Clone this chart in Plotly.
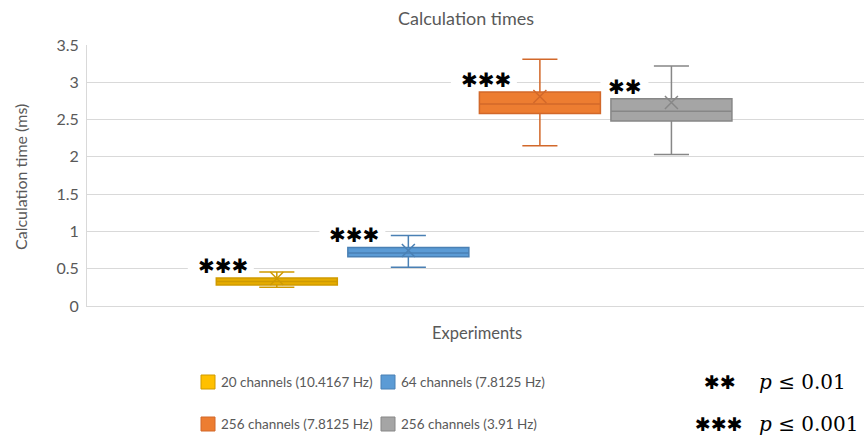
import plotly.graph_objects as go

# Summary statistics per experiment (ms)
series = ["20 channels (10.4167 Hz)", "64 channels (7.8125 Hz)",
          "256 channels (7.8125 Hz)", "256 channels (3.91 Hz)"]
lower = [0.25, 0.52, 2.15, 2.03]
q1 = [0.28, 0.66, 2.58, 2.48]
median = [0.33, 0.71, 2.71, 2.61]
q3 = [0.375, 0.785, 2.87, 2.78]
upper = [0.455, 0.945, 3.31, 3.22]
mean = [0.37, 0.745, 2.81, 2.73]
stars = [3, 3, 3, 2]
sig_levels = [2, 3]
sig_text = ["<i>p</i> ≤ 0.01", "<i>p</i> ≤ 0.001"]

fills = ["#E6AC00", "#5B9BD5", "#ED7D31", "#A5A5A5"]
swatch = ["#FFC000", "#5B9BD5", "#ED7D31", "#A5A5A5"]
lines = ["#CF9A00", "#4A80B4", "#D2682A", "#878787"]

W, H = 864, 439
PL, PR, PT, PB = 87, 864, 45, 306
XR = [-0.443, 5.464]
YR = [0, 3.5]
FONT = "Lato"
GREY = "#595959"
STAR = "\u2731"

XPX = (PR - PL) / (XR[1] - XR[0])   # pixels per x unit
YPX = (PB - PT) / (YR[1] - YR[0])   # pixels per y unit


def px(x):
    return (x - PL) / (PR - PL)


def py(y):
    return (PB - y) / (PB - PT)


fig = go.Figure()
for i, name in enumerate(series):
    pos = i + 1
    fig.add_trace(go.Box(
        x=[pos], q1=[q1[i]], median=[median[i]], q3=[q3[i]],
        lowerfence=[lower[i]], upperfence=[upper[i]],
        width=0.92, whiskerwidth=0.29, boxpoints=False,
        fillcolor=fills[i], line=dict(color=lines[i], width=1.5),
        name=name, showlegend=False, hoverinfo="skip",
    ))
    fig.add_trace(go.Scatter(
        x=[pos], y=[mean[i]], mode="markers", showlegend=False,
        marker=dict(symbol="x-thin", size=13,
                    line=dict(color=lines[i], width=1.5)),
        hoverinfo="skip",
    ))
    # significance marker, with a white patch hiding the gridline behind it
    right = pos - 27 / XPX
    yc = q3[i] + 12 / YPX
    fig.add_shape(type="rect", layer="between", xref="x", yref="y",
                  x0=right - (18 * stars[i] + 8) / XPX, x1=right + 4 / XPX,
                  y0=yc - 8 / YPX, y1=yc + 8 / YPX,
                  fillcolor="white", line=dict(width=0))
    fig.add_annotation(
        x=right, y=yc, xref="x", yref="y", text=STAR * stars[i],
        showarrow=False, xanchor="right", yanchor="middle",
        font=dict(family="DejaVu Sans", size=20, color="black"),
    )

annotations = [
    dict(text="Calculation times", x=px(466), y=py(18), size=18),
    dict(text="Experiments", x=px(477), y=py(333), size=16.5),
]
for a in annotations:
    fig.add_annotation(x=a["x"], y=a["y"], xref="paper", yref="paper",
                       text=a["text"], showarrow=False,
                       xanchor="center", yanchor="middle",
                       font=dict(family=FONT, size=a["size"], color=GREY))
fig.add_annotation(x=px(20), y=py(177), xref="paper", yref="paper",
                   text="Calculation time (ms)", showarrow=False, textangle=-90,
                   xanchor="center", yanchor="middle",
                   font=dict(family=FONT, size=16, color=GREY))

# Legend block below the plot
rows = [382, 424]
cols = [201, 381]
for i, name in enumerate(series):
    r, c = divmod(i, 2)
    cy = rows[r]
    cx = cols[c]
    fig.add_shape(type="rect", xref="paper", yref="paper",
                  x0=px(cx), x1=px(cx + 14), y0=py(cy - 7), y1=py(cy + 7),
                  fillcolor=swatch[i], line=dict(color=lines[i], width=1))
    fig.add_annotation(x=px(cx + 18), y=py(cy), xref="paper", yref="paper",
                       text=name, showarrow=False, xanchor="left",
                       yanchor="middle",
                       font=dict(family=FONT, size=13.5, color=GREY))
sig_right = [738, 745]
for r in range(2):
    cy = rows[r]
    fig.add_annotation(x=px(sig_right[r]), y=py(cy), xref="paper", yref="paper",
                       text=STAR * sig_levels[r], showarrow=False,
                       xanchor="right", yanchor="middle",
                       font=dict(family="DejaVu Sans", size=19, color="black"))
    fig.add_annotation(x=px(757), y=py(cy), xref="paper", yref="paper",
                       text=sig_text[r], showarrow=False,
                       xanchor="left", yanchor="middle",
                       font=dict(family="DejaVu Serif", size=20, color="black"))

fig.update_layout(
    width=W, height=H, margin=dict(l=PL, r=W - PR, t=PT, b=H - PB),
    paper_bgcolor="white", plot_bgcolor="white",
    xaxis=dict(range=XR, showgrid=False, zeroline=False,
               showticklabels=False, showline=True, linecolor="#D9D9D9",
               fixedrange=True),
    yaxis=dict(range=YR, dtick=0.5, showgrid=True, gridcolor="#D9D9D9",
               zeroline=False, showline=True, linecolor="#D9D9D9",
               ticks="outside", ticklen=4, tickcolor="white",
               tickfont=dict(family=FONT, size=16, color=GREY),
               fixedrange=True),
    font=dict(family=FONT),
)

fig.write_html("out.html")
